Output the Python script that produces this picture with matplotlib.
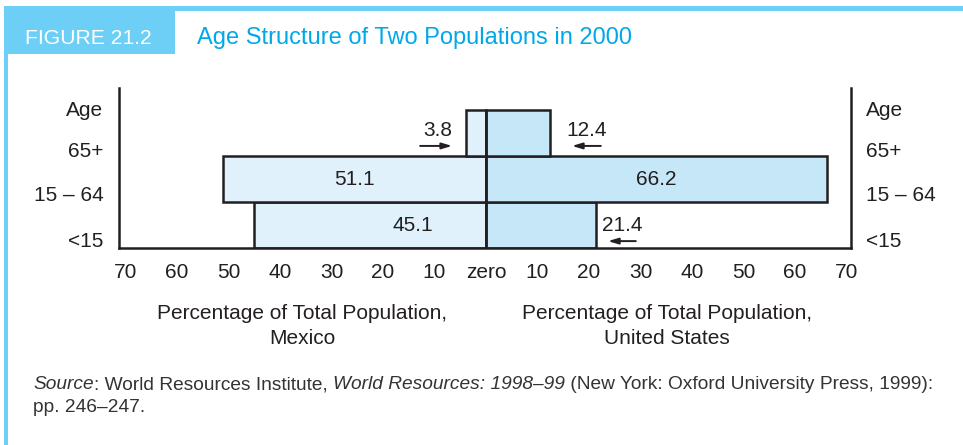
import matplotlib.pyplot as plt
from matplotlib.patches import Rectangle

# 年龄结构数据（占总人口百分比）
age_groups = ["<15", "15 \u2013 64", "65+"]
mexico = [45.1, 51.1, 3.8]
usa = [21.4, 66.2, 12.4]
tick_values = [-70, -60, -50, -40, -30, -20, -10, 0, 10, 20, 30, 40, 50, 60, 70]
tick_labels = ["70", "60", "50", "40", "30", "20", "10", "zero",
               "10", "20", "30", "40", "50", "60", "70"]

BLUE = "#6dcff6"
TITLE_BLUE = "#00a8e8"
INK = "#231f20"
MEX_FILL = "#e0f1fc"
US_FILL = "#c5e7f8"
FS = 15

plt.rcParams["font.family"] = ["Liberation Sans", "DejaVu Sans"]

fig = plt.figure(figsize=(9.63, 4.45), dpi=100)
W, H = 963, 445

# 蓝色边框与标题栏
fig.patches.append(Rectangle((4 / W, 1 - 11 / H), 1, 5 / H, transform=fig.transFigure,
                             color=BLUE, lw=0))
fig.patches.append(Rectangle((4 / W, 0), 4 / W, 1 - 6 / H, transform=fig.transFigure,
                             color=BLUE, lw=0))
fig.patches.append(Rectangle((8 / W, 1 - 54 / H), 167 / W, 43 / H, transform=fig.transFigure,
                             color=BLUE, lw=0))
fig.text(25 / W, 1 - 38 / H, "FIGURE 21.2", color="white", fontsize=15.2,
         va="center", ha="left")
fig.text(197 / W, 1 - 38 / H, "Age Structure of Two Populations in 2000", color=TITLE_BLUE,
         fontsize=17, va="center", ha="left")

ax = fig.add_axes([119 / W, 197 / H, 732 / W, 160 / H])
ax.set_xlim(-71.3, 70.9)
ax.set_ylim(0, 3.48)

# 人口金字塔柱形
y = list(range(len(age_groups)))
ax.barh(y, [-v for v in mexico], height=1, align="edge", color=MEX_FILL,
        edgecolor=INK, linewidth=1.8)
ax.barh(y, usa, height=1, align="edge", color=US_FILL, edgecolor=INK, linewidth=1.8)
ax.plot([0, 0], [0, 3], color=INK, lw=1.8, solid_capstyle="butt")

# 柱内数值
ax.text(-mexico[1] / 2, 1.5, f"{mexico[1]}", ha="center", va="center", fontsize=FS, color=INK)
ax.text(usa[1] / 2, 1.5, f"{usa[1]}", ha="center", va="center", fontsize=FS, color=INK)
ax.text(-14.3, 0.5, f"{mexico[0]}", ha="center", va="center", fontsize=FS, color=INK)

# 小柱子的标注和箭头
arrow = dict(arrowstyle="-|>,head_length=0.6,head_width=0.18", color=INK, lw=1.4,
             shrinkA=0, shrinkB=0)
ax.text(-mexico[2] - 5.5, 2.55, f"{mexico[2]}", ha="center", va="center", fontsize=FS, color=INK)
ax.annotate("", xy=(-mexico[2] - 2.8, 2.22), xytext=(-mexico[2] - 9.0, 2.22), arrowprops=arrow)
ax.text(usa[2] + 7.2, 2.55, f"{usa[2]}", ha="center", va="center", fontsize=FS, color=INK)
ax.annotate("", xy=(usa[2] + 4.3, 2.22), xytext=(usa[2] + 9.9, 2.22), arrowprops=arrow)
ax.text(usa[0] + 5.0, 0.48, f"{usa[0]}", ha="center", va="center", fontsize=FS, color=INK)
ax.annotate("", xy=(usa[0] + 2.3, 0.15), xytext=(usa[0] + 7.7, 0.15), arrowprops=arrow)

# 坐标轴样式
for side in ("left", "right", "bottom"):
    ax.spines[side].set_linewidth(1.8)
    ax.spines[side].set_color(INK)
ax.spines["top"].set_visible(False)
ax.set_xticks(tick_values)
ax.set_xticklabels(tick_labels, fontsize=FS, color=INK)
ax.tick_params(axis="x", length=0, pad=11)
ax.set_yticks([])

# 左右两侧年龄标签
side_labels = ["Age"] + age_groups[::-1]
side_y = [3.0, 2.1, 1.15, 0.15]
for lab, yy in zip(side_labels, side_y):
    ax.text(-71.3 - 3.0, yy, lab, ha="right", va="center", fontsize=FS, color=INK)
    ax.text(70.9 + 2.9, yy, lab, ha="left", va="center", fontsize=FS, color=INK)

fig.text(302 / W, 1 - 326 / H, "Percentage of Total Population,\nMexico", ha="center",
         va="center", fontsize=FS, color=INK, linespacing=1.4)
fig.text(667 / W, 1 - 326 / H, "Percentage of Total Population,\nUnited States", ha="center",
         va="center", fontsize=FS, color=INK, linespacing=1.4)

# 资料来源（斜体与正体混排）
parts = [("Source", "italic"), (": World Resources Institute, ", "normal"),
         ("World Resources: 1998\u201399", "italic"),
         (" (New York: Oxford University Press, 1999):", "normal")]
src_kw = dict(fontsize=13.8, color="#333333", ha="left", va="bottom")
prev = fig.text(33 / W, 1 - 393 / H, parts[0][0], style=parts[0][1], **src_kw)
for s, st in parts[1:]:
    prev = fig.add_artist(plt.Annotation(s, xy=(1, 0), xycoords=prev, style=st, **src_kw))
fig.text(33 / W, 1 - 416 / H, "pp. 246\u2013247.", **src_kw)

fig.savefig("out.png", dpi=100)
